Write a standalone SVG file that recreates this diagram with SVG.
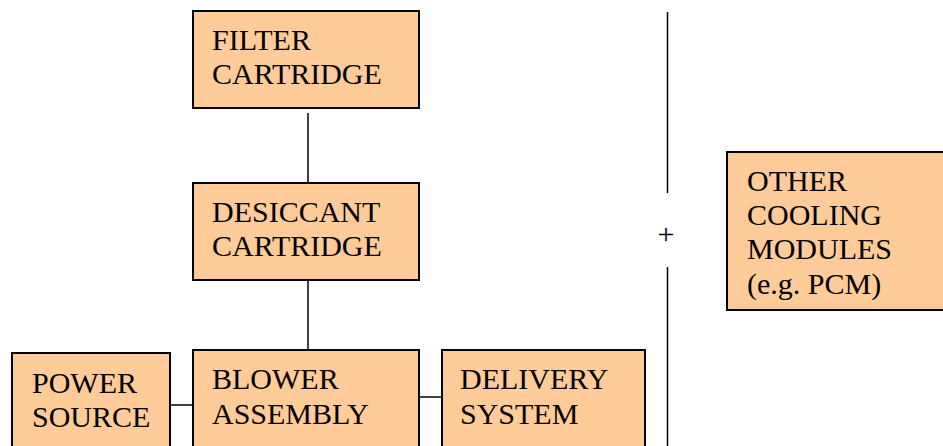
<svg xmlns="http://www.w3.org/2000/svg" width="943" height="446" viewBox="0 0 943 446">
<style>
.box{fill:#FFCC99;stroke:#000;stroke-width:2}
.t{font-family:"Liberation Serif","Times New Roman",serif;font-size:30px;fill:#000}
.c{stroke:#000;stroke-width:1.5;fill:none}
</style>
<rect width="943" height="446" fill="#fff"/>
<g id="connectors">
<line class="c" x1="308" y1="113" x2="308" y2="183"/>
<line class="c" x1="308" y1="280" x2="308" y2="350"/>
<line class="c" x1="170" y1="405" x2="193" y2="405"/>
<line class="c" x1="419" y1="397" x2="442" y2="397"/>
<line class="c" x1="667.5" y1="12" x2="667.5" y2="193"/>
<line class="c" x1="667.5" y1="267" x2="667.5" y2="446"/>
</g>
<g id="plus"><text class="t" x="666" y="244" text-anchor="middle" font-size="30">+</text></g>
<g id="filter">
<rect class="box" x="193" y="11" width="226" height="97"/>
<text class="t" x="212" y="50">FILTER</text>
<text class="t" x="212" y="84">CARTRIDGE</text>
</g>
<g id="desiccant">
<rect class="box" x="193" y="183" width="226" height="97"/>
<text class="t" x="212" y="222">DESICCANT</text>
<text class="t" x="212" y="256">CARTRIDGE</text>
</g>
<g id="power">
<rect class="box" x="12" y="353" width="158" height="100"/>
<text class="t" x="32" y="393">POWER</text>
<text class="t" x="32" y="427">SOURCE</text>
</g>
<g id="blower">
<rect class="box" x="193" y="350" width="226" height="103"/>
<text class="t" x="212" y="389">BLOWER</text>
<text class="t" x="212" y="424">ASSEMBLY</text>
</g>
<g id="delivery">
<rect class="box" x="442" y="350" width="203" height="103"/>
<text class="t" x="460" y="389">DELIVERY</text>
<text class="t" x="460" y="424">SYSTEM</text>
</g>
<g id="other">
<rect class="box" x="727" y="152" width="230" height="158"/>
<text class="t" x="747" y="191">OTHER</text>
<text class="t" x="747" y="225">COOLING</text>
<text class="t" x="747" y="259">MODULES</text>
<text class="t" x="747" y="294">(e.g. PCM)</text>
</g>
</svg>
